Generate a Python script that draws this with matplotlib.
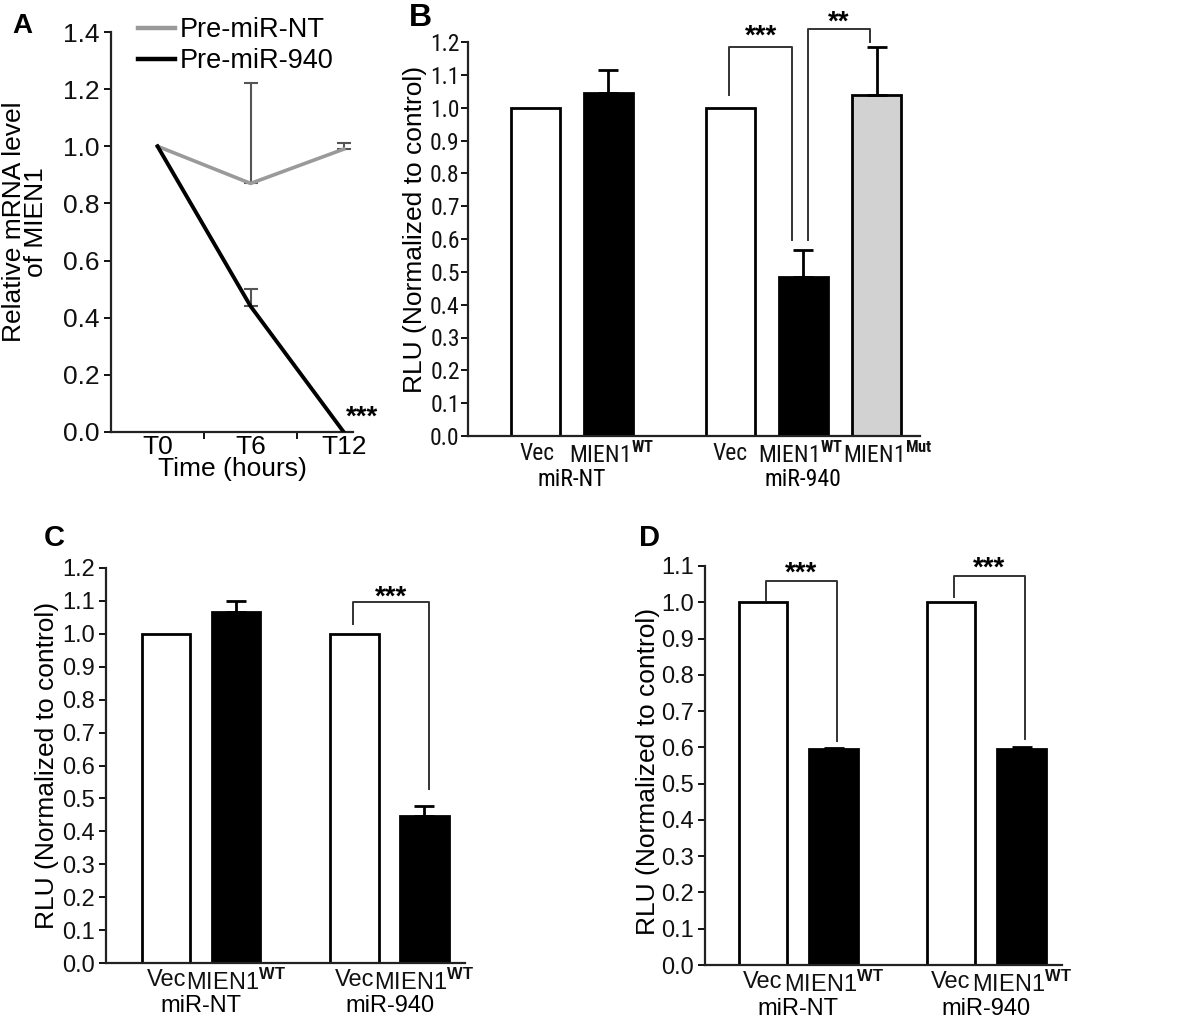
import matplotlib
matplotlib.use("Agg")
import matplotlib.pyplot as plt
from matplotlib import font_manager as fm
import numpy as np

plt.rcParams["font.family"] = ["Liberation Sans", "DejaVu Sans"]
plt.rcParams["mathtext.fontset"] = "custom"
plt.rcParams["mathtext.rm"] = "Liberation Sans"
plt.rcParams["mathtext.bf"] = "Liberation Sans:bold"

# ── Data ──────────────────────────────────────────────────────────────────────
time_labels = ["T0", "T6", "T12"]
nt_mean = [1.0, 0.87, 0.99]
nt_err = [0.0, 0.35, 0.02]
m940_mean = [1.0, 0.44, 0.0]
m940_err = [0.0, 0.06, 0.0]

b_labels = ["Vec", "$\\mathtt{MIEN1}^{\\mathsf{WT}}$", "Vec",
            "$\\mathtt{MIEN1}^{\\mathsf{WT}}$", "$\\mathtt{MIEN1}^{\\mathsf{Mut}}$"]
b_groups = ["miR-NT", "miR-940"]
b_vals = [1.0, 1.045, 1.0, 0.485, 1.04]
b_err = [0.0, 0.07, 0.0, 0.08, 0.145]

c_labels = ["Vec", "MIEN1$^{\\mathbf{WT}}$", "Vec", "MIEN1$^{\\mathbf{WT}}$"]
c_groups = ["miR-NT", "miR-940"]
c_vals = [1.0, 1.065, 1.0, 0.448]
c_err = [0.0, 0.035, 0.0, 0.03]

d_labels = ["Vec", "MIEN1$^{\\mathbf{WT}}$", "Vec", "MIEN1$^{\\mathbf{WT}}$"]
d_groups = ["miR-NT", "miR-940"]
d_vals = [1.0, 0.595, 1.0, 0.595]
d_err = [0.0, 0.004, 0.0, 0.007]


# ── Condensed font for panel B, if one is installed ───────────────────────────
def have_font(name):
    try:
        fm.findfont(fm.FontProperties(family=name), fallback_to_default=False)
        return True
    except ValueError:
        return False


NARROW = None
for cand in ["Liberation Sans Narrow", "Arial Narrow", "Roboto Condensed",
             "DejaVu Sans Condensed", "Open Sans Condensed"]:
    if have_font(cand):
        NARROW = cand
        break
if NARROW:
    narrow_fam, b_fs, b_xfs = [NARROW, "Liberation Sans"], 17, 17
    plt.rcParams["mathtext.tt"] = NARROW
    plt.rcParams["mathtext.sf"] = NARROW + ":bold"
else:
    narrow_fam, b_fs, b_xfs = ["Liberation Sans"], 15, 14
    plt.rcParams["mathtext.tt"] = "Liberation Sans"
    plt.rcParams["mathtext.sf"] = "Liberation Sans:bold"

# ── Layout ────────────────────────────────────────────────────────────────────
W, H = 1200, 1019
fig = plt.figure(figsize=(W / 100, H / 100), dpi=100)


def px_axes(l, t, r, b):
    return fig.add_axes([l / W, 1 - b / H, (r - l) / W, (b - t) / H])


def style(ax, fs, pad=3):
    for s in ["top", "right"]:
        ax.spines[s].set_visible(False)
    for s in ["left", "bottom"]:
        ax.spines[s].set_linewidth(1.6)
        ax.spines[s].set_color("#222")
    ax.tick_params(axis="y", direction="out", length=5, width=1.4,
                   labelsize=fs, pad=pad, colors="#111")
    ax.tick_params(axis="x", length=0, colors="#111")


def bar_panel(ax, pos, vals, errs, colors, labels, label_pos, groups,
              group_pos, width, ylim, yticks, fs, xfs, family=None, ypad=3):
    ax.bar(pos, vals, width=width, color=colors, edgecolor="black",
           linewidth=2.0, zorder=2)
    pos = np.asarray(pos)
    errs = np.asarray(errs)
    vals = np.asarray(vals)
    m = errs > 0
    ax.errorbar(pos[m], vals[m], yerr=[np.zeros(m.sum()), errs[m]], fmt="none",
                ecolor="black", elinewidth=2.0, capsize=7, capthick=2.0, zorder=3)
    ax.set_ylim(*ylim)
    ax.set_yticks(yticks)
    ax.set_yticklabels([f"{t:.1f}" for t in yticks], family=family)
    style(ax, fs, ypad)
    ax.set_xticks(label_pos)
    ax.set_xticklabels(labels, family=family, fontsize=xfs)
    ax.tick_params(axis="x", pad=4)
    tr = ax.get_xaxis_transform()
    for g, gp in zip(groups, group_pos):
        ax.text(gp, -0.11, g, transform=tr, ha="center", va="center",
                fontsize=xfs, family=family)


def bracket(ax, x0, x1, y0, ytop, y1, stars, sy, fs=20):
    ax.plot([x0, x0, x1, x1], [y0, ytop, ytop, y1], color="#333", lw=1.4,
            zorder=4, clip_on=False)
    ax.text((x0 + x1) / 2, sy, stars, ha="center", va="center",
            fontsize=fs, fontweight="bold")


# ── Panel A ───────────────────────────────────────────────────────────────────
axA = px_axes(111, 32, 353, 432)
xA = np.arange(len(time_labels))
axA.plot(xA, nt_mean, color="#9a9a9a", lw=2.6, label="Pre-miR-NT", zorder=3)
axA.plot(xA, m940_mean, color="black", lw=2.8, label="Pre-miR-940", zorder=3)
for mean, err in [(nt_mean, nt_err), (m940_mean, m940_err)]:
    mean = np.asarray(mean)
    err = np.asarray(err)
    m = err > 0
    axA.errorbar(xA[m], mean[m], yerr=[np.zeros(m.sum()), err[m]], fmt="none",
                 ecolor="#555", elinewidth=1.5, capsize=5, capthick=1.5, zorder=2)
axA.set_xlim(-0.5, 2.1)
axA.set_ylim(0, 1.4)
yA = np.arange(0, 1.41, 0.2)
axA.set_yticks(yA)
axA.set_yticklabels([f"{t:.1f}" for t in yA])
style(axA, 19)
axA.set_xticks([0.5, 1.5])
axA.set_xticklabels([])
axA.set_xticks(xA, minor=True)
axA.set_xticklabels(time_labels, minor=True)
axA.tick_params(axis="x", which="major", length=5, width=1.4, direction="out")
axA.tick_params(axis="x", which="minor", length=0, labelsize=19, pad=2)
axA.set_xlabel("Time (hours)", fontsize=19, labelpad=-1)
axA.set_ylabel("Relative mRNA level\nof MIEN1", fontsize=19, linespacing=0.9)
axA.yaxis.set_label_coords(-0.26, 0.525)
axA.text(2.2, 0.05, "***", ha="center", va="center", fontsize=20,
         fontweight="bold")
leg = axA.legend(loc="upper left", bbox_to_anchor=(0.11, 1.037), frameon=False,
                 fontsize=19.5, handlelength=1.37, handletextpad=0.19,
                 labelspacing=0.18, borderpad=0, borderaxespad=0)
for ln in leg.get_lines():
    ln.set_linewidth(3.2)

# ── Panel B ───────────────────────────────────────────────────────────────────
axB = px_axes(468, 42, 920, 436)
posB = [0, 1, 2.67, 3.67, 4.68]
yB = np.arange(0, 1.21, 0.1)
bar_panel(axB, posB, b_vals, b_err,
          ["white", "black", "white", "black", "#d2d2d2"],
          b_labels, [0.03, 1.05, 2.67, 3.63, 4.83], b_groups, [0.5, 3.67],
          0.67, (0, 1.2), yB, b_fs, b_xfs, family=narrow_fam, ypad=1)
axB.set_xlim(-0.92, 5.27)
axB.set_ylabel("RLU (Normalized to control)", fontsize=19, labelpad=2)
axB.yaxis.set_label_coords(-0.09, 0.525)
bracket(axB, 2.66, 3.52, 1.04, 1.186, 0.597, "***", 1.215)
bracket(axB, 3.73, 4.58, 0.597, 1.24, 1.20, "**", 1.258)

# ── Panel C ───────────────────────────────────────────────────────────────────
axC = px_axes(106, 568, 465, 963)
posC = [0, 1, 2.69, 3.69]
yC = np.arange(0, 1.21, 0.1)
bar_panel(axC, posC, c_vals, c_err, ["white", "black", "white", "black"],
          c_labels, posC, c_groups, [0.5, 3.2], 0.69, (0, 1.2), yC, 17, 17)
axC.set_xlim(-0.86, 4.27)
axC.set_ylabel("RLU (Normalized to control)", fontsize=19)
axC.yaxis.set_label_coords(-0.13, 0.5)
bracket(axC, 2.67, 3.75, 1.03, 1.097, 0.53, "***", 1.11)

# ── Panel D ───────────────────────────────────────────────────────────────────
axD = px_axes(705, 566, 1062, 965)
posD = [0, 1, 2.66, 3.66]
yD = np.arange(0, 1.11, 0.1)
bar_panel(axD, posD, d_vals, d_err, ["white", "black", "white", "black"],
          d_labels, posD, d_groups, [0.5, 3.16], 0.69, (0, 1.1), yD, 17, 17)
axD.set_xlim(-0.82, 4.23)
axD.set_ylabel("RLU (Normalized to control)", fontsize=19)
axD.yaxis.set_label_coords(-0.126, 0.484)
bracket(axD, 0.04, 1.05, 1.005, 1.058, 0.618, "***", 1.08)
bracket(axD, 2.7, 3.7, 1.015, 1.072, 0.624, "***", 1.092)

# ── Panel letters ─────────────────────────────────────────────────────────────
for letter, x, y, fs in [("A", 12, 33, 20), ("B", 409, 26, 23),
                         ("C", 44, 546, 21), ("D", 639, 546, 21)]:
    fig.text(x / W, 1 - y / H, letter, fontsize=fs, fontweight="bold",
             ha="left", va="baseline")

fig.savefig("out.png", dpi=100)
